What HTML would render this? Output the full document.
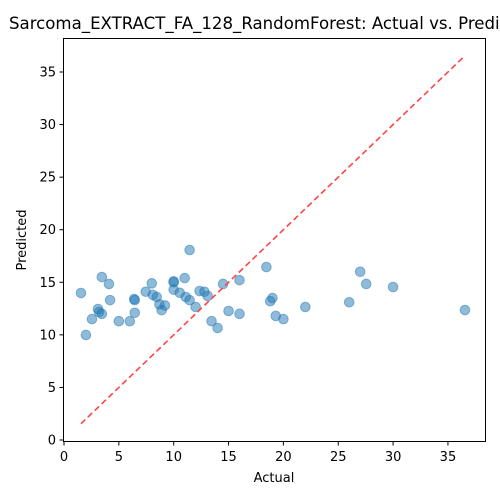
<!DOCTYPE html>
<html><head><meta charset="utf-8"><style>
body{margin:0;background:#fff}
svg{display:block;font-family:"DejaVu Sans","Liberation Sans",sans-serif}
</style></head><body>
<svg id="chart" width="500" height="500">
<rect width="500" height="500" fill="#fff"/>
<text x="9" y="29" font-size="16.6" fill="#000">Sarcoma_EXTRACT_FA_128_RandomForest: Actual vs. Predicted</text>
<g id="plot"></g>
<rect x="63.5" y="38.5" width="422" height="403" fill="none" stroke="#000" stroke-width="1"/>
<text x="274" y="482" font-size="13" text-anchor="middle">Actual</text>
<text transform="translate(26,240) rotate(-90)" font-size="13" text-anchor="middle">Predicted</text>
</svg>
<script>
const actual=[1.55,2.0,2.55,3.1,3.2,3.45,3.45,4.1,4.2,5.0,6.0,6.4,6.45,6.45,7.45,8.0,8.1,8.45,8.7,8.9,9.2,10.0,10.0,10.0,10.55,11.0,11.1,11.45,11.45,12.0,12.36,12.8,13.1,13.45,14.0,14.5,15.0,16.0,16.0,18.45,18.8,19.0,19.3,20.0,22.0,26.0,27.0,27.55,30.0,36.55];
const predicted=[13.98,9.99,11.5,12.46,12.17,15.5,12.0,14.84,13.3,11.3,11.3,13.4,13.3,12.1,14.1,14.9,13.8,13.6,12.9,12.35,12.8,15.0,15.1,14.3,14.0,15.4,13.6,18.07,13.3,12.65,14.17,14.1,13.7,11.3,10.65,14.84,12.27,12.0,15.2,16.45,13.2,13.5,11.8,11.5,12.65,13.1,16.0,14.84,14.55,12.36];
const xTicks=[0,5,10,15,20,25,30,35];
const yTicks=[0,5,10,15,20,25,30,35];
const NS='http://www.w3.org/2000/svg';
const X=v=>64+v*10.97;
const Y=v=>440-v*10.514;
const g=document.getElementById('plot');
function mk(t,a){const e=document.createElementNS(NS,t);for(const k in a)e.setAttribute(k,a[k]);g.appendChild(e);return e;}
xTicks.forEach(t=>{
  const l=mk('line',{x1:X(t),x2:X(t),y1:441.5,y2:445.5,stroke:'#000'});
  
  
  const s=mk('text',{x:X(t),y:461,'font-size':13,'text-anchor':'middle'});
  s.textContent=t;
  
  
});
yTicks.forEach(t=>{
  const l=mk('line',{x1:59.5,x2:63.5,y1:Y(t),y2:Y(t),stroke:'#000'});
  
  
  const s=mk('text',{x:56,y:Y(t)+4.5,'font-size':13,'text-anchor':'end'});
  s.textContent=t;
  
  
});
actual.forEach((a,i)=>{
  const c=mk('circle',{cx:X(a),cy:Y(predicted[i]),r:4.8,fill:'#1f77b4','fill-opacity':0.5,stroke:'#1f77b4','stroke-opacity':0.5});
  
  
});
const mn=Math.min(...actual),mx=Math.max(...actual);
const d=mk('line',{x1:X(mn),y1:Y(mn),x2:X(mx),y2:Y(mx),stroke:'#f44',"stroke-width":1.6,"stroke-dasharray":"6,3.5"});


</script>
</body></html>
